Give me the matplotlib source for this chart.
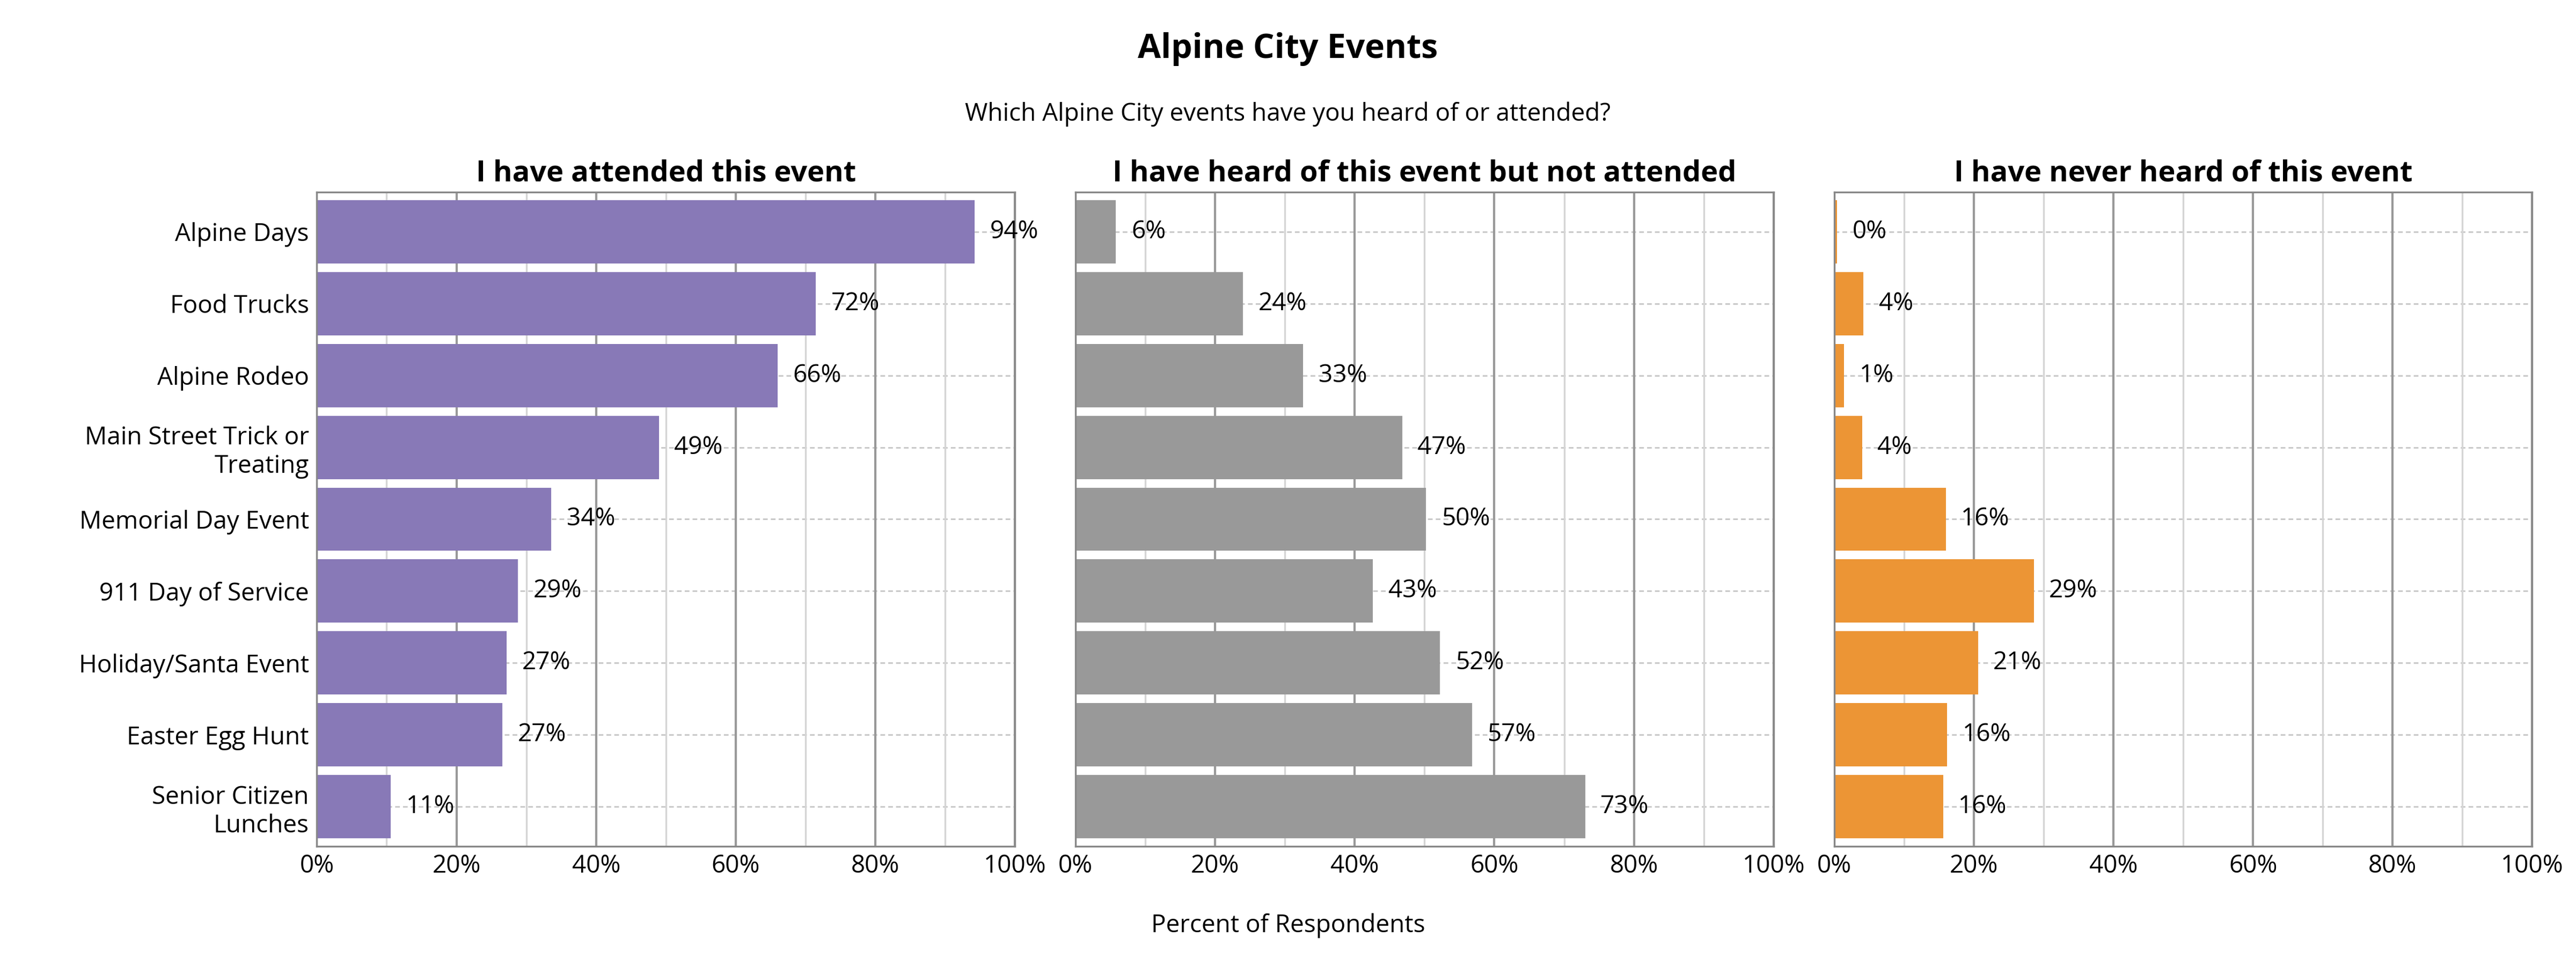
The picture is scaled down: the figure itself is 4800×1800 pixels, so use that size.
import matplotlib.pyplot as plt
from matplotlib.ticker import MultipleLocator, FuncFormatter

plt.rcParams['font.family'] = ['Open Sans', 'DejaVu Sans']

events = ["Alpine Days", "Food Trucks", "Alpine Rodeo", "Main Street Trick or\nTreating",
          "Memorial Day Event", "911 Day of Service", "Holiday/Santa Event",
          "Easter Egg Hunt", "Senior Citizen\nLunches"]
attended = [94.2, 71.5, 66.0, 49.0, 33.6, 28.8, 27.2, 26.6, 10.6]
heard = [5.8, 24.0, 32.6, 46.8, 50.2, 42.6, 52.2, 56.8, 73.0]
never = [0.4, 4.2, 1.4, 4.0, 16.0, 28.6, 20.6, 16.2, 15.6]
titles = ["I have attended this event", "I have heard of this event but not attended",
          "I have never heard of this event"]
colors = ["#8879b7", "#999999", "#ec9535"]

fig = plt.figure(figsize=(16, 6), dpi=300)
fig.text(0.5, 0.94, "Alpine City Events", ha='center', fontsize=15, fontweight='bold')
fig.text(0.5, 0.875, "Which Alpine City events have you heard of or attended?", ha='center', fontsize=11)

left0, width, gap = 0.123, 0.271, 0.0235
ypos = list(range(len(events)))
for i, (vals, title, col) in enumerate(zip([attended, heard, never], titles, colors)):
    ax = fig.add_axes([left0 + i * (width + gap), 0.124, width, 0.677])
    ax.set_xlim(0, 100)
    ax.set_ylim(len(events) - 0.45, -0.55)
    ax.xaxis.set_major_locator(MultipleLocator(20))
    ax.xaxis.set_minor_locator(MultipleLocator(10))
    ax.xaxis.set_major_formatter(FuncFormatter(lambda v, p: f"{v:.0f}%"))
    ax.grid(axis='x', which='major', color='#999999', lw=1.0)
    ax.grid(axis='x', which='minor', color='#d5d5d5', lw=0.8)
    for y in ypos:
        ax.axhline(y, color='#c8c8c8', lw=0.7, ls=(0, (3, 2)), zorder=0)
    ax.set_axisbelow(True)
    ax.barh(ypos, vals, height=0.88, color=col, zorder=2)
    for y, v in zip(ypos, vals):
        ax.text(v + 2.2, y, f"{round(v):.0f}%", va='center', fontsize=11)
    ax.set_yticks(ypos)
    if i == 0:
        ax.set_yticklabels(events, fontsize=11, ha='right')
    else:
        ax.set_yticklabels([])
    ax.tick_params(axis='y', length=0)
    ax.tick_params(axis='x', which='both', length=0, labelsize=11)
    for s in ax.spines.values():
        s.set_color('#888888')
    ax.set_title(title, fontsize=13, fontweight='bold', pad=5)

fig.text(0.5, 0.035, "Percent of Respondents", ha='center', fontsize=11)
fig.savefig("out.png", dpi=300)
